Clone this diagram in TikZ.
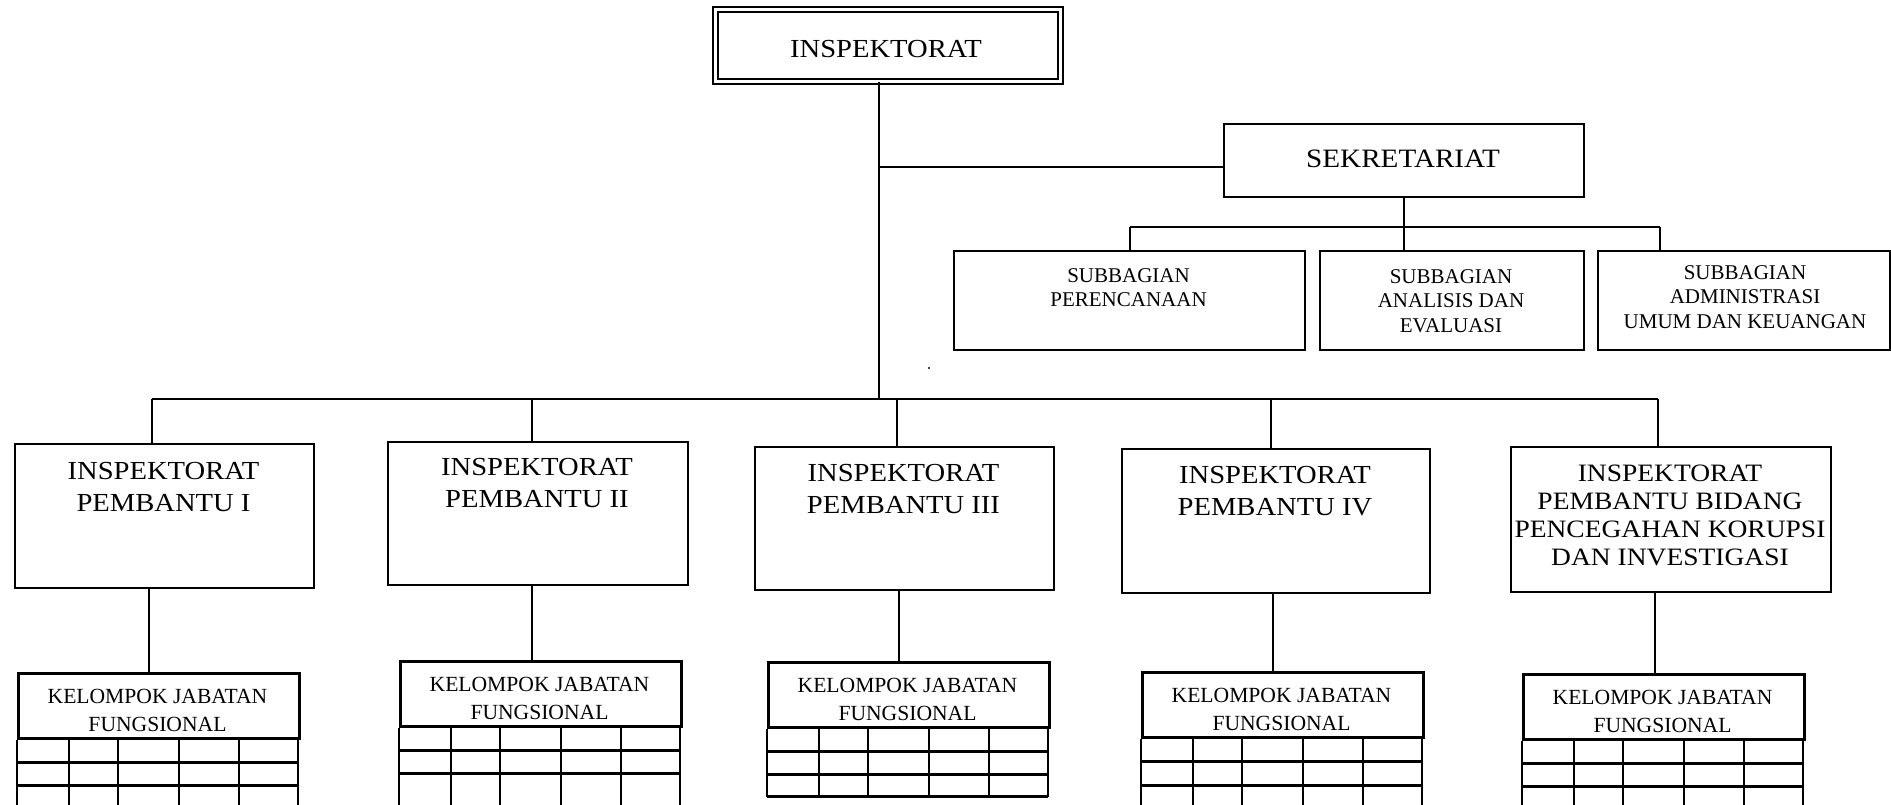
\documentclass[tikz,border=0pt]{standalone}
\usepackage{fontspec}
\setmainfont{Liberation Serif}
\newfontfamily\wideserif[FakeStretch=1.1]{Liberation Serif}
\tikzset{
  box/.style={draw, line width=1.8pt, rectangle, inner sep=0pt, anchor=north west},
  kelbox/.style={draw, line width=2.6pt, rectangle, inner sep=0pt, anchor=north west, minimum width=281pt, minimum height=65pt},
  conn/.style={line width=1.8pt},
  kel/.style={line width=2.6pt},
  bigtxt/.style={font=\wideserif\fontsize{26}{32}\selectfont, align=center, inner sep=0pt},
  sektxt/.style={font=\wideserif\fontsize{26.5}{32}\selectfont, align=center, inner sep=0pt},
  vtxt/.style={font=\wideserif\fontsize{25}{28}\selectfont, align=center, inner sep=0pt},
  subtxt/.style={font=\fontsize{21}{24.5}\selectfont, align=center, inner sep=0pt},
  keltxt/.style={font=\fontsize{21.6}{28}\selectfont, align=center, inner sep=0pt},
}
\newcommand{\kelgrid}[3]{%
  \foreach \cx in {0,52,101,162,222,281}
    \draw[kel] ([xshift=\cx pt]#1.south west) -- ++(0,#2);
  \foreach \ry in {#3}
    \draw[kel] ([yshift=-\ry pt]#1.south west) -- ++(281,0);
}
\begin{document}
\begin{tikzpicture}[x=1pt, y=-1pt]
\useasboundingbox (0,0) rectangle (1891,805);
\clip (0,0) rectangle (1891,805);
\fill[white] (0,0) rectangle (1891,805);

% top
\node[draw, double, double distance=3.2pt, line width=1.8pt, inner sep=0pt, anchor=north west,
      minimum width=345pt, minimum height=72pt] (top) at (714.5,8.5) {};
\node[bigtxt, anchor=base] (topt) at (886,58) {INSPEKTORAT};

% sekretariat
\node[box, minimum width=360pt, minimum height=73pt] (sek) at (1223,123) {};
\node[sektxt, anchor=base] (sekt) at (1403,168) {SEKRETARIAT};

% subbagian
\node[box, minimum width=351pt, minimum height=99pt] (sub1) at (953,250) {};
\node[box, minimum width=264pt, minimum height=99pt] (sub2) at (1319,250) {};
\node[box, minimum width=292pt, minimum height=99pt] (sub3) at (1597,250) {};
\node[subtxt, anchor=north] (sub1t) at (1128.5,268) {SUBBAGIAN\\PERENCANAAN};
\node[subtxt, anchor=north] (sub2t) at (1451,269) {SUBBAGIAN\\ANALISIS DAN\\EVALUASI};
\node[subtxt, anchor=north] (sub3t) at (1745,265) {SUBBAGIAN\\ADMINISTRASI\\UMUM DAN KEUANGAN};

% inspektorat pembantu
\node[box, minimum width=299pt, minimum height=144pt] (ip1) at (14,443) {};
\node[box, minimum width=300pt, minimum height=143pt] (ip2) at (387,441) {};
\node[box, minimum width=299pt, minimum height=143pt] (ip3) at (754,446) {};
\node[box, minimum width=308pt, minimum height=144pt] (ip4) at (1121,448) {};
\node[box, minimum width=320pt, minimum height=145pt] (ip5) at (1510,446) {};
\node[bigtxt, anchor=north] (ip1t) at (163.5,462) {INSPEKTORAT\\PEMBANTU I};
\node[bigtxt, anchor=north] (ip2t) at (537,458) {INSPEKTORAT\\PEMBANTU II};
\node[bigtxt, anchor=north] (ip3t) at (903.5,464) {INSPEKTORAT\\PEMBANTU III};
\node[bigtxt, anchor=north] (ip4t) at (1275,466) {INSPEKTORAT\\PEMBANTU IV};
\node[vtxt, anchor=north] (ip5t) at (1670,464.6) {INSPEKTORAT\\PEMBANTU BIDANG\\PENCEGAHAN KORUPSI\\DAN INVESTIGASI};

% kelompok jabatan fungsional
\node[kelbox] (k1) at (17,672) {};
\node[kelbox] (k2) at (399,660) {};
\node[kelbox] (k3) at (767,661) {};
\node[kelbox] (k4) at (1141,671) {};
\node[kelbox] (k5) at (1522,673) {};
\node[keltxt, anchor=north] (k1t) at (157.5,689) {KELOMPOK JABATAN\\FUNGSIONAL};
\node[keltxt, anchor=north] (k2t) at (539.5,677) {KELOMPOK JABATAN\\FUNGSIONAL};
\node[keltxt, anchor=north] (k3t) at (907.5,678) {KELOMPOK JABATAN\\FUNGSIONAL};
\node[keltxt, anchor=north] (k4t) at (1281.5,688) {KELOMPOK JABATAN\\FUNGSIONAL};
\node[keltxt, anchor=north] (k5t) at (1662.5,690) {KELOMPOK JABATAN\\FUNGSIONAL};
\kelgrid{k1}{80}{23,46}
\kelgrid{k2}{90}{23,46}
\kelgrid{k3}{68}{23,46,68}
\kelgrid{k4}{80}{23,47}
\kelgrid{k5}{80}{23,46}

% connectors
\coordinate (jS) at (879,167);
\coordinate (bA) at (152,399);
\coordinate (bB) at (532,399);
\coordinate (bC) at (897,399);
\coordinate (bD) at (1271,399);
\coordinate (bE) at (1658,399);
\coordinate (sb1) at (1130,227);
\coordinate (sb3) at (1660,227);
\coordinate (v1) at (149,600);
\coordinate (v2) at (532,600);
\coordinate (v3) at (899,600);
\coordinate (v4) at (1273,600);
\coordinate (v5) at (1655,600);

\draw[conn] (top.south -| jS) -- (jS |- bA);
\draw[conn] (jS) -- (jS -| sek.west);
\draw[conn] (sek.south) -- (sek.south |- sub2.north);
\draw[conn] (sb1) -- (sb3);
\draw[conn] (sb1) -- (sb1 |- sub1.north);
\draw[conn] (sb3) -- (sb3 |- sub3.north);

\draw[conn] (bA) -- (bE);
\draw[conn] (bA) -- (bA |- ip1.north);
\draw[conn] (bB) -- (bB |- ip2.north);
\draw[conn] (bC) -- (bC |- ip3.north);
\draw[conn] (bD) -- (bD |- ip4.north);
\draw[conn] (bE) -- (bE |- ip5.north);

\draw[conn] (ip1.south -| v1) -- (k1.north -| v1);
\draw[conn] (ip2.south -| v2) -- (k2.north -| v2);
\draw[conn] (ip3.south -| v3) -- (k3.north -| v3);
\draw[conn] (ip4.south -| v4) -- (k4.north -| v4);
\draw[conn] (ip5.south -| v5) -- (k5.north -| v5);

\fill (929,368) circle (1.2pt);
\end{tikzpicture}
\end{document}
